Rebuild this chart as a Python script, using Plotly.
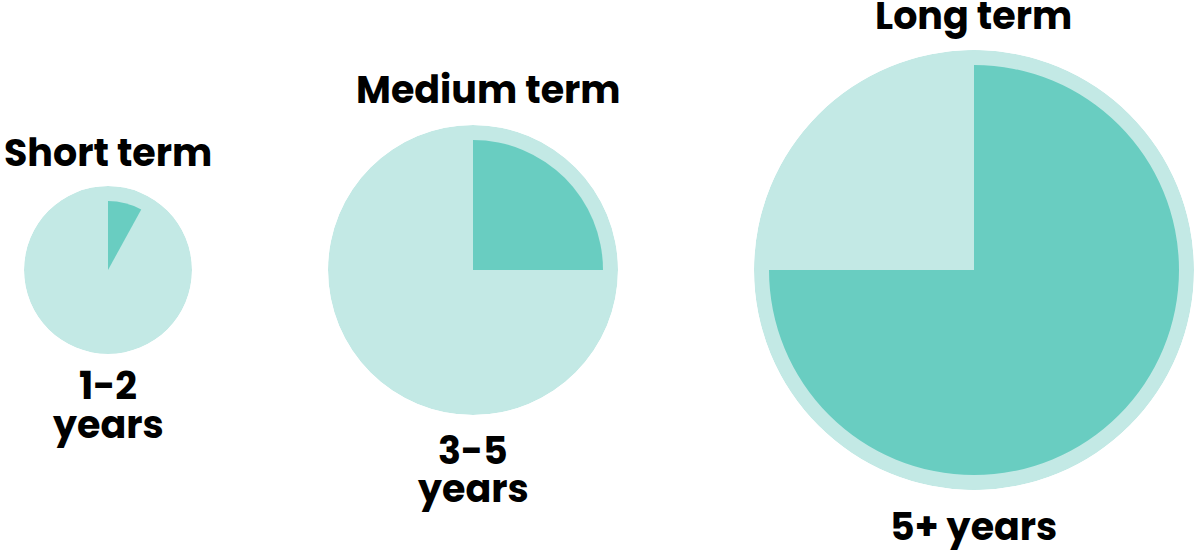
import plotly.graph_objects as go

# Investment horizons and the share of each circle that is filled
terms = ["Short term", "Medium term", "Long term"]
horizons = [["1-2", "years"], ["3-5", "years"], ["5+ years"]]
shares = [8, 25, 75]  # percent

W, H = 1195, 551
LIGHT = "#C3E9E5"
DARK = "#69CDC1"
FONT = dict(family="Poppins, Inter, Roboto, sans-serif", color="#000000", weight=700)
FONT_SIZE = 38

# circle layout in pixels: centre x, centre y, outer radius
centres = [(108, 270, 84), (473, 270, 145), (974, 270, 220)]
inset = 15  # gap between outer ring and inner wedge
title_x = [108, 488, 974]
title_y = [152, 90, 15]
label_y = [[385, 424], [450, 488], [526]]

fig = go.Figure()
annotations = []


def text_at(x, y, txt):
    return dict(
        x=x / W, y=1 - y / H, xref="paper", yref="paper",
        text=txt, showarrow=False, xanchor="center", yanchor="middle",
        font=dict(size=FONT_SIZE, **FONT),
    )


for i, (term, hz, pct) in enumerate(zip(terms, horizons, shares)):
    cx, cy, R = centres[i]
    pname = "polar" if i == 0 else f"polar{i + 1}"
    # full light disc
    fig.add_trace(go.Barpolar(
        r=[R], theta=[180], width=[360], base=0,
        marker=dict(color=LIGHT, line=dict(width=0)),
        subplot=pname, hoverinfo="skip", showlegend=False,
    ))
    # filled share, starting at 12 o'clock and running clockwise
    span = pct / 100 * 360
    fig.add_trace(go.Barpolar(
        r=[R - inset], theta=[span / 2], width=[span], base=0,
        marker=dict(color=DARK, line=dict(width=0)),
        subplot=pname, name=term, showlegend=False,
    ))
    fig.layout[pname] = dict(
        domain=dict(x=[(cx - R) / W, (cx + R) / W],
                    y=[1 - (cy + R) / H, 1 - (cy - R) / H]),
        bgcolor="rgba(0,0,0,0)",
        hole=0,
        radialaxis=dict(range=[0, R], visible=False, showgrid=False),
        angularaxis=dict(rotation=90, direction="clockwise", visible=False,
                         showgrid=False, showline=False),
    )
    annotations.append(text_at(title_x[i], title_y[i], term))
    for line, ly in zip(hz, label_y[i]):
        annotations.append(text_at(cx, ly, line))

fig.update_layout(
    width=W, height=H,
    margin=dict(l=0, r=0, t=0, b=0),
    paper_bgcolor="white", plot_bgcolor="white",
    annotations=annotations,
    barmode="overlay",
)

fig.write_html("out.html")
